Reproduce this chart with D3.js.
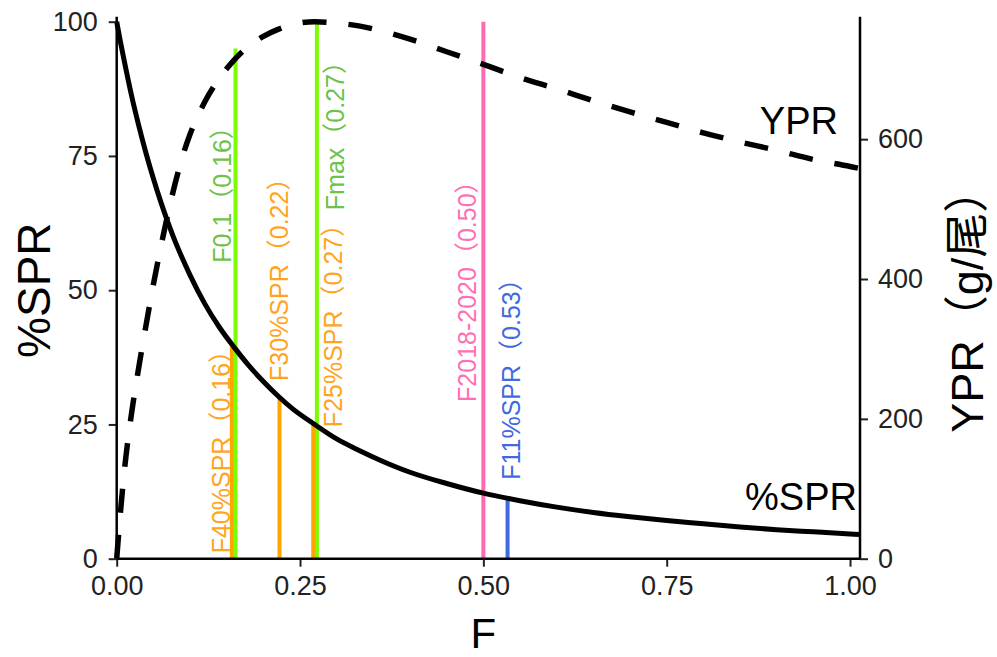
<!DOCTYPE html>
<html>
<head>
<meta charset="utf-8">
<script src="https://cdn.jsdelivr.net/npm/d3@7"></script>
<style>
  html, body { margin: 0; padding: 0; background: #fff; }
  svg { display: block; }
  text { font-family: "Liberation Sans", Arial, "Noto Sans CJK SC", sans-serif; }
</style>
</head>
<body>
<script>
// Fishing mortality grid and the two per-recruit curves
const fishingMortality = [0, 0.005, 0.01, 0.02, 0.03, 0.04, 0.05, 0.06, 0.07, 0.08, 0.09, 0.10,
  0.12, 0.14, 0.16, 0.18, 0.20, 0.22, 0.24, 0.27, 0.30, 0.33, 0.36, 0.40, 0.45, 0.50,
  0.55, 0.60, 0.65, 0.70, 0.75, 0.80, 0.85, 0.90, 0.95, 1.00, 1.0136];
// spawning potential ratio, percent
const sprPercent = [100, 96.3, 92.9, 86.4, 80.7, 75.5, 70.8, 66.5, 62.6, 59.0, 55.8, 52.8,
  47.5, 43.1, 39.4, 36.0, 33.0, 30.3, 27.9, 25.0, 22.3, 20.2, 18.3, 16.1, 14.0, 12.2,
  10.8, 9.6, 8.6, 7.8, 7.1, 6.5, 5.9, 5.4, 5.0, 4.6, 4.5];
// yield per recruit, g/尾
const yprGrams = [0, 65, 121, 206, 273, 334, 392, 445, 494, 538, 576, 607,
  653, 687, 713, 733, 747, 757, 764, 768, 766, 762, 755, 743, 725, 707,
  688, 672, 655, 639, 624, 609, 596, 584, 571, 561, 558];

// Biological reference points
const refNames = ["F0.1", "Fmax", "F40%SPR", "F30%SPR", "F25%SPR", "F2018-2020", "F11%SPR"];
const refF = [0.162, 0.273, 0.157, 0.222, 0.268, 0.50, 0.533];
const refHeight = [95, 100, 40, 30, 25, 100, 11];   // top of each line, %SPR units
const refGroup = ["green", "green", "orange", "orange", "orange", "pink", "blue"];

// Axis ticks
const xTicks = [0, 0.25, 0.5, 0.75, 1.0];
const sprTicks = [0, 25, 50, 75, 100];
const yprTicks = [0, 200, 400, 600];

// Label placement: bottom of the rotated label (%SPR units) and baseline offset from the line (px)
const labelBottom = [55.1, 64.9, 1.0, 33.1, 24.5, 29.2, 14.7];
const labelShift = [-4, 27, -2, 9, 29, -7, 12];

const lineColor = { green: "#7cfc00", orange: "#ffa500", pink: "#ff69b4", blue: "#4169e1" };
const textColor = { green: "#6cc24a", orange: "#ffa41c", pink: "#ff6fb5", blue: "#4169e1" };

const W = 997, H = 657;
const svg = d3.select("body").append("svg").attr("width", W).attr("height", H);

const fMax = fishingMortality[fishingMortality.length - 1];
const x = d3.scaleLinear().domain([0, fMax]).range([116.7, 860]);
const ySpr = d3.scaleLinear().domain([0, 100]).range([558.7, 21.7]);
const yprTop = d3.max(yprGrams);
const yYpr = d3.scaleLinear().domain([0, yprTop]).range([558.7, 21.7]);
const panelTop = ySpr(100.9);

const pts = fishingMortality.map((f, i) => ({ f, spr: sprPercent[i], ypr: yprGrams[i] }));

// reference labels (drawn first so lines sit over them)
const refs = refNames.map((name, i) => ({
  name, f: refF[i], h: refHeight[i], g: refGroup[i], yb: labelBottom[i], dx: labelShift[i]
}));
svg.append("g").selectAll("text").data(refs).join("text")
  .attr("transform", d => `translate(${x(d.f) + d.dx},${ySpr(d.yb)}) rotate(-90)`)
  .attr("font-size", 25)
  .attr("fill", d => textColor[d.g])
  .text(d => `${d.name}（${d.f.toFixed(2)}）`);

// reference lines
svg.append("g").selectAll("line").data(refs).join("line")
  .attr("x1", d => x(d.f)).attr("x2", d => x(d.f))
  .attr("y1", ySpr(0)).attr("y2", d => ySpr(d.h))
  .attr("stroke", d => lineColor[d.g])
  .attr("stroke-width", 4);

// curves
const sprLine = d3.line().x(d => x(d.f)).y(d => ySpr(d.spr)).curve(d3.curveMonotoneX);
const yprLine = d3.line().x(d => x(d.f)).y(d => yYpr(d.ypr)).curve(d3.curveMonotoneX);

svg.append("path").datum(pts).attr("d", yprLine)
  .attr("fill", "none").attr("stroke", "#000").attr("stroke-width", 5.5)
  .attr("stroke-dasharray", "24,22");
svg.append("path").datum(pts).attr("d", sprLine)
  .attr("fill", "none").attr("stroke", "#000").attr("stroke-width", 5);

// curve labels
svg.append("text").attr("x", 838).attr("y", 134).attr("text-anchor", "end")
  .attr("font-size", 38).attr("fill", "#000").text("YPR");
svg.append("text").attr("x", 857).attr("y", 510).attr("text-anchor", "end")
  .attr("font-size", 38).attr("fill", "#000").text("%SPR");

// axes
const tickColor = "#222";
function styleAxis(g) {
  g.select(".domain").remove();
  g.selectAll(".tick line").attr("stroke", "#222").attr("stroke-width", 2);
  g.selectAll(".tick text").attr("fill", tickColor).attr("font-size", 27)
    .attr("font-family", "'Liberation Sans', Arial, sans-serif");
}

const gx = svg.append("g").attr("transform", `translate(0,${ySpr(0)})`)
  .call(d3.axisBottom(x).tickValues(xTicks).tickFormat(d3.format(".2f")).tickSize(8).tickPadding(9));
styleAxis(gx);

const gl = svg.append("g").attr("transform", `translate(${x(0)},0)`)
  .call(d3.axisLeft(ySpr).tickValues(sprTicks).tickSize(8).tickPadding(11));
styleAxis(gl);

const gr = svg.append("g").attr("transform", `translate(${x(fMax)},0)`)
  .call(d3.axisRight(yYpr).tickValues(yprTicks).tickSize(8).tickPadding(10));
styleAxis(gr);

// axis lines
svg.append("line").attr("x1", x(0)).attr("x2", x(fMax)).attr("y1", ySpr(0)).attr("y2", ySpr(0))
  .attr("stroke", "#000").attr("stroke-width", 2.5);
svg.append("line").attr("x1", x(0)).attr("x2", x(0)).attr("y1", ySpr(0)).attr("y2", panelTop)
  .attr("stroke", "#000").attr("stroke-width", 2.5);
svg.append("line").attr("x1", x(fMax)).attr("x2", x(fMax)).attr("y1", ySpr(0)).attr("y2", panelTop)
  .attr("stroke", "#000").attr("stroke-width", 2.5);

// axis titles
svg.append("text").attr("x", x(0.5)).attr("y", 648).attr("text-anchor", "middle")
  .attr("font-size", 42).attr("fill", "#000").text("F");
svg.append("text").attr("transform", `translate(50,${(ySpr(0) + ySpr(100)) / 2}) rotate(-90)`)
  .attr("text-anchor", "middle").attr("font-size", 46).attr("fill", "#000").text("%SPR");
svg.append("text").attr("transform", `translate(983,${(ySpr(0) + ySpr(100)) / 2 + 10}) rotate(-90)`)
  .attr("text-anchor", "middle").attr("font-size", 45).attr("fill", "#000").text("YPR（g/尾）");
</script>
</body>
</html>
